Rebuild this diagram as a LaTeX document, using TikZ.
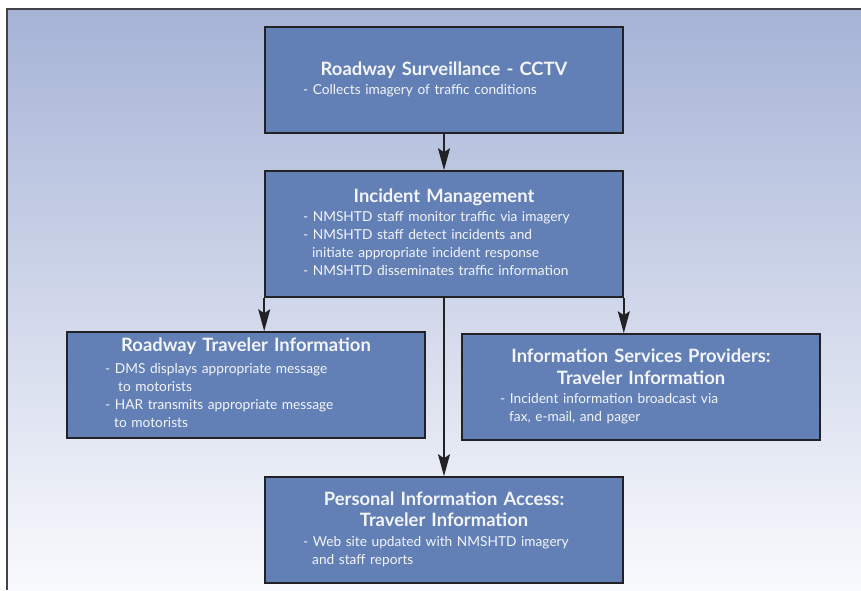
\documentclass[tikz,border=0pt]{standalone}
\usepackage{fontspec}
\setmainfont{Lato}
\usetikzlibrary{arrows.meta}
\definecolor{bgtop}{HTML}{A6B3D6}
\definecolor{bgbot}{HTML}{F9FAFD}
\definecolor{boxfill}{HTML}{6280B5}
\definecolor{edge}{HTML}{222226}
\definecolor{txt}{HTML}{F4F5F9}
\begin{document}
\begin{tikzpicture}[x=1pt,y=-1pt,
  panel/.style={draw=edge, line width=1.6pt, fill=boxfill, inner sep=0pt,
    minimum width=358pt, minimum height=106pt},
  title/.style={text=txt, inner sep=0pt, anchor=base, text width=340pt, align=center,
    font=\fontsize{18.4}{21}\selectfont\bfseries},
  body/.style={text=txt, inner sep=0pt, anchor=base west, text width=320pt, align=left,
    font=\fontsize{13.7}{18}\selectfont},
  link/.style={draw=edge, line width=1.5pt,
    -{Stealth[length=22pt,width=12pt,inset=4pt]}}]
\useasboundingbox (0,0) rectangle (861,590);
% backdrop with its frame on the top and left sides
\shade[top color=bgtop, bottom color=bgbot] (7,9) rectangle (861,590);
\draw[edge!85, line width=1.3pt] (861,9) -- (7,9) -- (7,590);

% panels
\node[panel] (cctv) at (444,80) {};
\node[panel, minimum height=126pt] (incident) at (444,234) {};
\node[panel] (roadway) at (246,385) {};
\node[panel] (isp) at (641,387) {};
\node[panel] (personal) at (444,530) {};

% panel texts
\node[title] (cctvT) at (444,75) {Roadway Surveillance - CCTV};
\node[body] (cctvB) at (303,94) {- Collects imagery of traffic conditions};

\node[title] (incT) at (444,202) {Incident Management};
\node[body] (incB) at (303,221) {- NMSHTD staff monitor traffic via imagery\\
  - NMSHTD staff detect incidents and\\
  \hspace*{9pt}initiate appropriate incident response\\
  - NMSHTD disseminates traffic information};

\node[title] (roadT) at (246,351) {Roadway Traveler Information};
\node[body] (roadB) at (105,373) {- DMS displays appropriate message\\
  \hspace*{13pt}to motorists\\
  - HAR transmits appropriate message\\
  \hspace*{9pt}to motorists};

\node[title] (ispT) at (641,362) {Information Services Providers:\\[1pt]Traveler Information};
\node[body] (ispB) at (500,403) {- Incident information broadcast via\\
  \hspace*{9pt}fax, e-mail, and pager};

\node[title] (perT) at (444,505) {Personal Information Access:\\Traveler Information};
\node[body] (perB) at (303,546) {- Web site updated with NMSHTD imagery\\
  \hspace*{9pt}and staff reports};

% connectors
\draw[link] (cctv.south) -- (incident.north);
\draw[link] (incident.south west) -- (incident.south west |- roadway.north);
\draw[link] (incident.south east) -- (incident.south east |- isp.north);
\draw[link] (incident.south) -- (personal.north);
\end{tikzpicture}
\end{document}
